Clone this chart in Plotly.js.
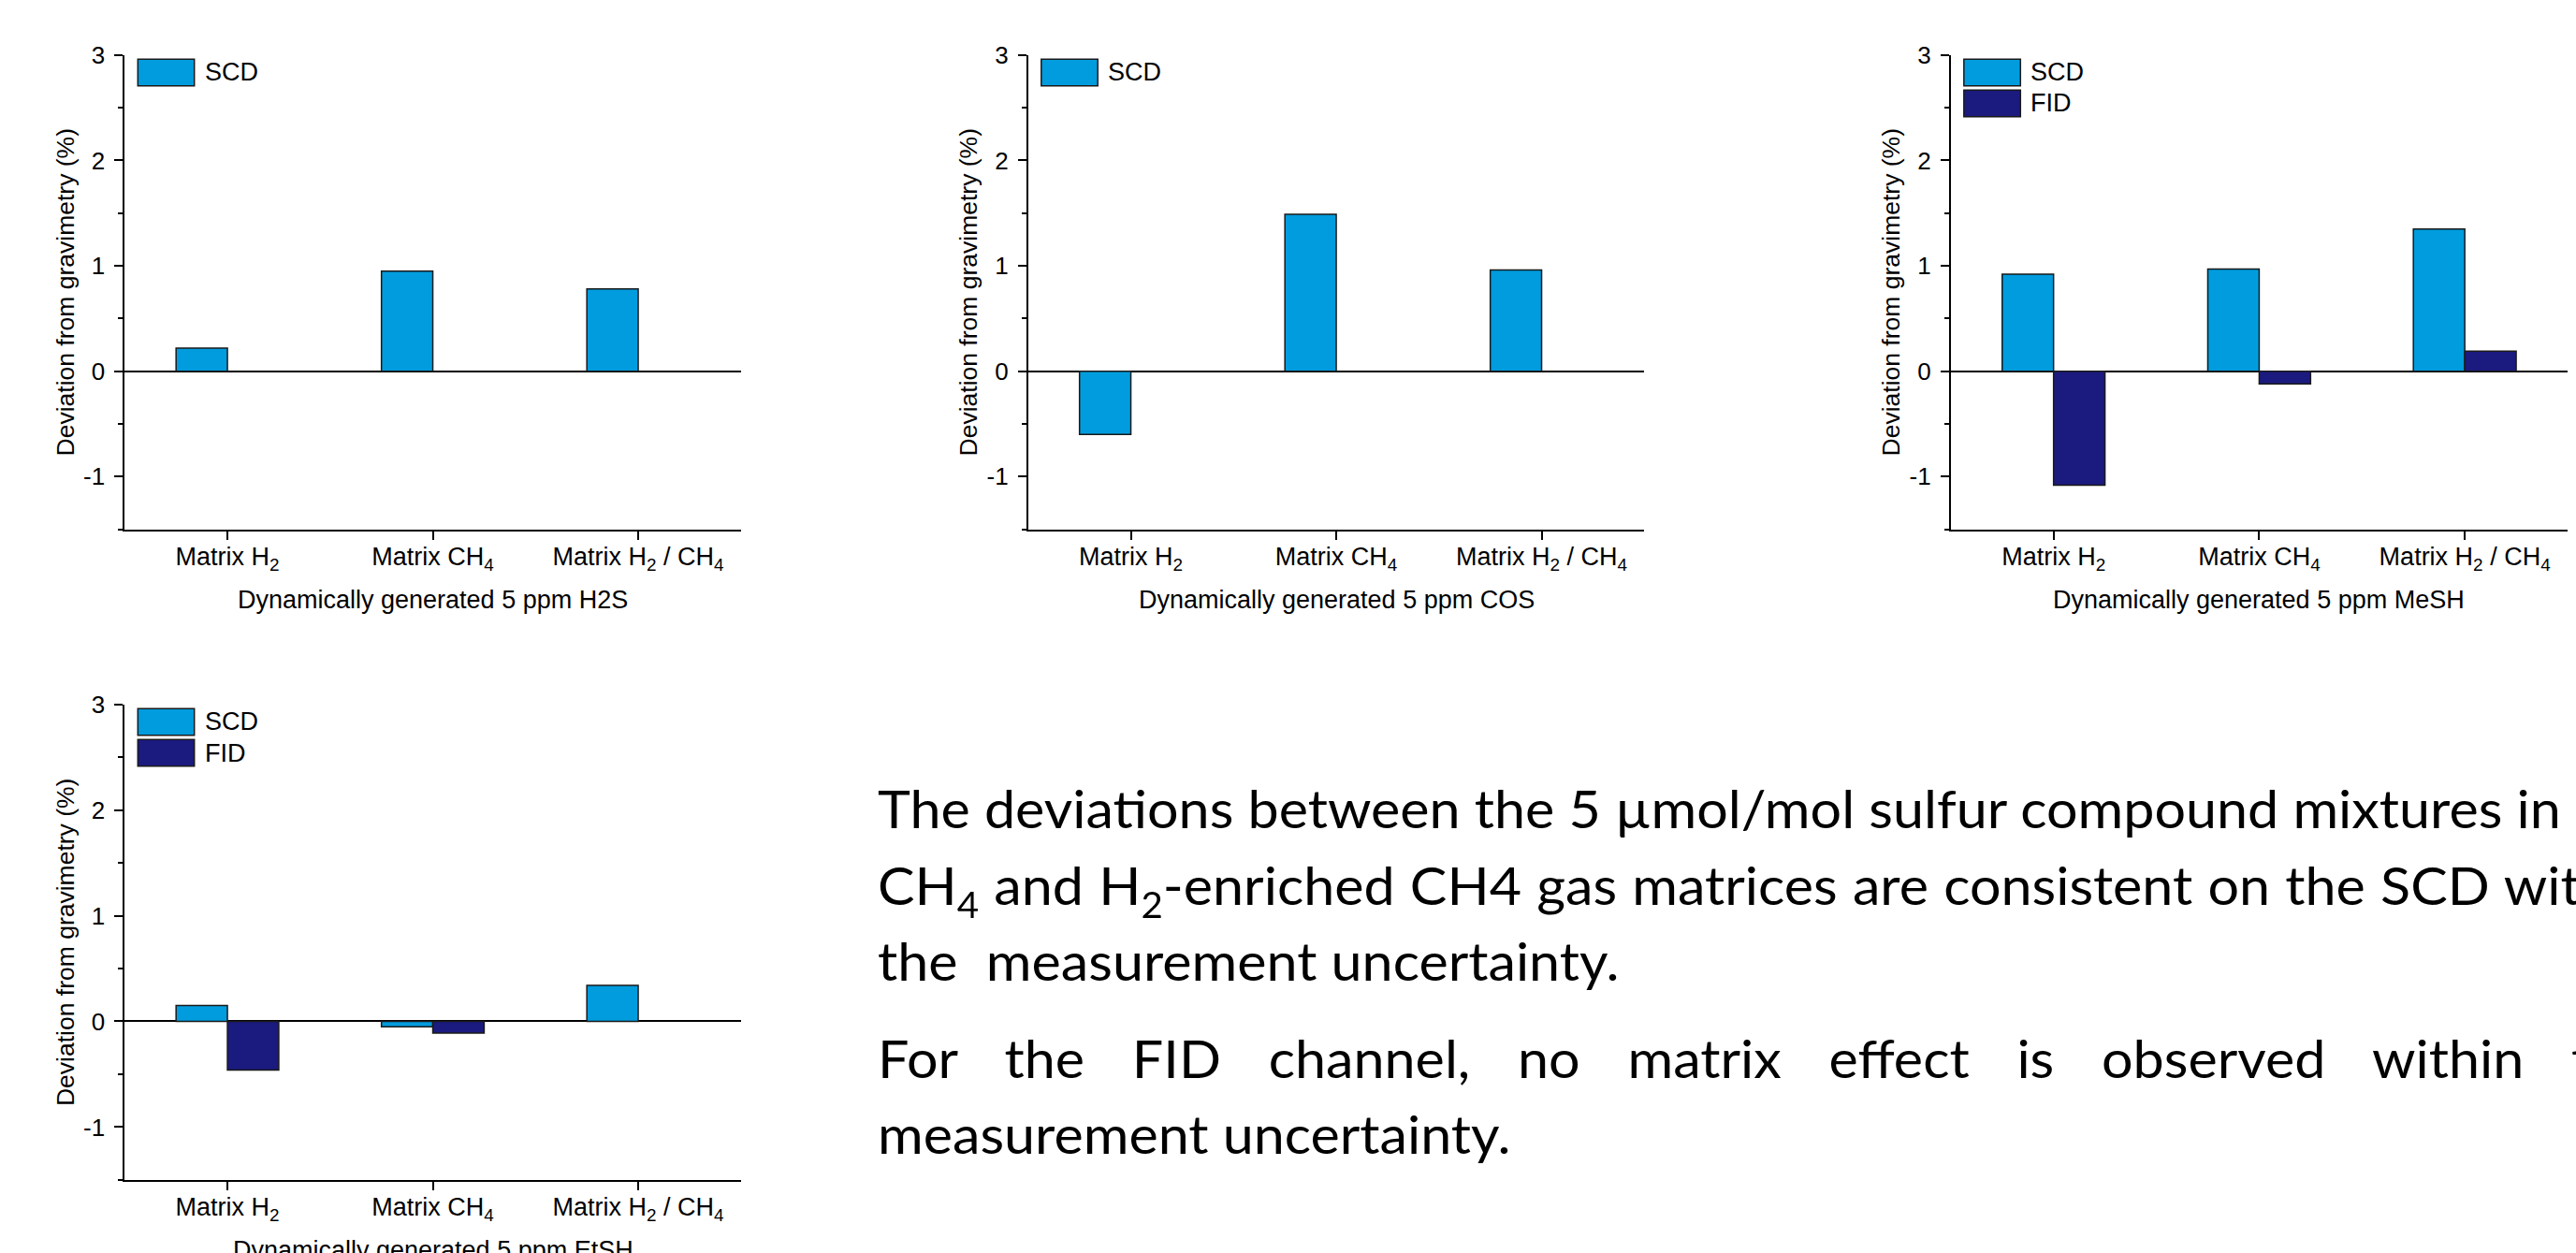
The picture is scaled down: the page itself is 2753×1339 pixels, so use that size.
<!DOCTYPE html>
<html>
<head>
<meta charset="utf-8">
<script src="https://cdn.plot.ly/plotly-3.0.1.min.js"></script>
<style>
  html, body { margin: 0; padding: 0; background: #fff; overflow: hidden; }
  #plot { position: absolute; left: 0; top: 0; width: 2753px; height: 1339px; }
  #text { position: absolute; left: 938px; top: 0; transform-origin: 0 0; font-family: Lato, "Open Sans", sans-serif; font-size: 57px; color: #000; white-space: pre; }
  #text .ln { position: absolute; left: 0; line-height: 1.2; }
  #text .jst { text-align: justify; text-align-last: justify; white-space: normal; }
  #text sub { font-size: 0.68em; vertical-align: -0.36em; line-height: 0; }
</style>
</head>
<body>
<div id="plot"></div>
<div id="text"></div>
<script>
// ---------------- data ----------------
const categories = ['Matrix H<sub>2</sub>', 'Matrix CH<sub>4</sub>', 'Matrix H<sub>2</sub> / CH<sub>4</sub>'];
const seriesNames = ['SCD', 'FID'];
const compounds = ['H2S', 'COS', 'MeSH', 'EtSH'];

const scdH2S  = [0.22, 0.95, 0.78];
const fidH2S  = [null, null, null];
const scdCOS  = [-0.60, 1.49, 0.96];
const fidCOS  = [null, null, null];
const scdMeSH = [0.92, 0.97, 1.35];
const fidMeSH = [-1.08, -0.12, 0.19];
const scdEtSH = [0.15, -0.05, 0.34];
const fidEtSH = [-0.46, -0.11, null];

const legendItems = [['SCD'], ['SCD'], ['SCD', 'FID'], ['SCD', 'FID']];
const yTickVals = [-1, 0, 1, 2, 3];
const yTitle = 'Deviation from gravimetry (%)';
const xTitlePrefix = 'Dynamically generated 5 ppm ';

const textLines = [
  'The deviations between the 5 µmol/mol sulfur compound mixtures in H<sub>2</sub>,',
  'CH<sub>4</sub> and H<sub>2</sub>-enriched CH4 gas matrices are consistent on the SCD within',
  'the  measurement uncertainty.',
  'For the FID channel, no matrix effect is observed within the',
  'measurement uncertainty.'
];

// ---------------- styling ----------------
const SCD_COLOR = '#009CDE';
const FID_COLOR = '#1B1A7F';
const FONT = 'Arial, "Liberation Sans", sans-serif';

const W = 2753, H = 1339;
const xDomains = [[0.04842, 0.28761], [0.39913, 0.63832], [0.75729, 0.99673], [0.04842, 0.28761]];
const yDomains = [[0.57752, 0.95609], [0.57752, 0.95609], [0.57752, 0.95609], [0.05833, 0.43786]];

const scdData = [scdH2S, scdCOS, scdMeSH, scdEtSH];
const fidData = [fidH2S, fidCOS, fidMeSH, fidEtSH];

const traces = [];
const layout = {
  width: W, height: H,
  margin: {l: 0, r: 0, t: 0, b: 0},
  paper_bgcolor: '#fff', plot_bgcolor: 'rgba(0,0,0,0)',
  showlegend: false,
  barmode: 'overlay',
  font: {family: FONT, color: '#000', size: 26},
  shapes: [], annotations: []
};

for (let i = 0; i < 4; i++) {
  const sfx = i === 0 ? '' : String(i + 1);
  const xa = 'x' + sfx, ya = 'y' + sfx;
  traces.push({
    type: 'bar', name: seriesNames[0], x: categories, y: scdData[i],
    xaxis: xa, yaxis: ya, width: 0.25, offset: -0.25,
    marker: {color: SCD_COLOR, line: {color: '#1a1a1a', width: 1.5}}
  });
  traces.push({
    type: 'bar', name: seriesNames[1], x: categories, y: fidData[i],
    xaxis: xa, yaxis: ya, width: 0.25, offset: 0,
    marker: {color: FID_COLOR, line: {color: '#1a1a1a', width: 1.5}}
  });

  layout['xaxis' + sfx] = {
    domain: xDomains[i], anchor: ya, type: 'category',
    range: [-0.5, 2.5], fixedrange: true,
    showline: true, linecolor: '#000', linewidth: 2,
    ticks: 'outside', ticklen: 9, tickwidth: 2, tickcolor: '#000',
    ticklabelstandoff: -5,
    showgrid: false, zeroline: false,
    tickfont: {family: FONT, size: 27, color: '#000'}
  };
  // x-axis title placed as a domain-anchored label (so the bottom one may run off the page like the original)
  layout.annotations.push({
    xref: xa + ' domain', yref: ya + ' domain', x: 0.5, y: -0.1486,
    xanchor: 'center', yanchor: 'middle', showarrow: false,
    text: xTitlePrefix + compounds[i], font: {family: FONT, size: 27, color: '#000'}
  });
  layout['yaxis' + sfx] = {
    domain: yDomains[i], anchor: xa,
    range: [-1.5, 3], fixedrange: true,
    tickmode: 'array', tickvals: yTickVals, ticktext: yTickVals.map(String),
    showline: true, linecolor: '#000', linewidth: 2,
    ticks: 'outside', ticklen: 9, tickwidth: 2, tickcolor: '#000',
    ticklabelstandoff: 5,
    minor: {dtick: 0.5, tick0: 0, ticks: 'outside', ticklen: 5, tickwidth: 2, tickcolor: '#000', showgrid: false},
    showgrid: false,
    zeroline: true, zerolinecolor: '#000', zerolinewidth: 2,
    tickfont: {family: FONT, size: 26, color: '#000'},
    title: {text: yTitle, font: {family: FONT, size: 26.5, color: '#000'}, standoff: 2}
  };

  // legend drawn as boxes + labels in axis-domain coordinates
  const boxY = [[0.99112, 0.93510], [0.92602, 0.87000]];
  legendItems[i].forEach((nm, k) => {
    const col = nm === 'SCD' ? SCD_COLOR : FID_COLOR;
    layout.shapes.push({
      type: 'rect', xref: xa + ' domain', yref: ya + ' domain',
      x0: 0.02126, x1: 0.11298, y0: boxY[k][1], y1: boxY[k][0],
      fillcolor: col, line: {color: '#1a1a1a', width: 1.5}
    });
    layout.annotations.push({
      xref: xa + ' domain', yref: ya + ' domain',
      x: 0.1267, y: (boxY[k][0] + boxY[k][1]) / 2,
      xanchor: 'left', yanchor: 'middle', showarrow: false,
      text: nm, font: {family: FONT, size: 27, color: '#000'}
    });
  });
}

Plotly.newPlot('plot', traces, layout, {staticPlot: true, displayModeBar: false});

// ---------------- text block ----------------
(function () {
  const box = document.getElementById('text');
  const ctx = document.createElement('canvas').getContext('2d');
  ctx.font = '57px Lato';
  const visible1 = 'The deviations between the 5 µmol/mol sulfur compound mixtures in';
  const ratio = 1800 / ctx.measureText(visible1).width;
  const theW = ctx.measureText('the').width;
  box.style.transform = 'scaleX(' + ratio + ')';
  const baselines = [885, 967, 1048, 1152, 1233];
  const asc = 0.987 * 57;
  const justified = [false, false, false, true, false];
  const wordSpacing = ['0px', '1px', '0px', '0px', '0px'];
  textLines.forEach((t, i) => {
    const d = document.createElement('div');
    d.className = 'ln' + (justified[i] ? ' jst' : '');
    d.innerHTML = t;
    d.style.top = (baselines[i] - asc) + 'px';
    d.style.wordSpacing = wordSpacing[i];
    if (justified[i]) d.style.width = ((2748 - 938) / ratio + theW) + 'px';
    box.appendChild(d);
  });
})();
</script>
</body>
</html>
